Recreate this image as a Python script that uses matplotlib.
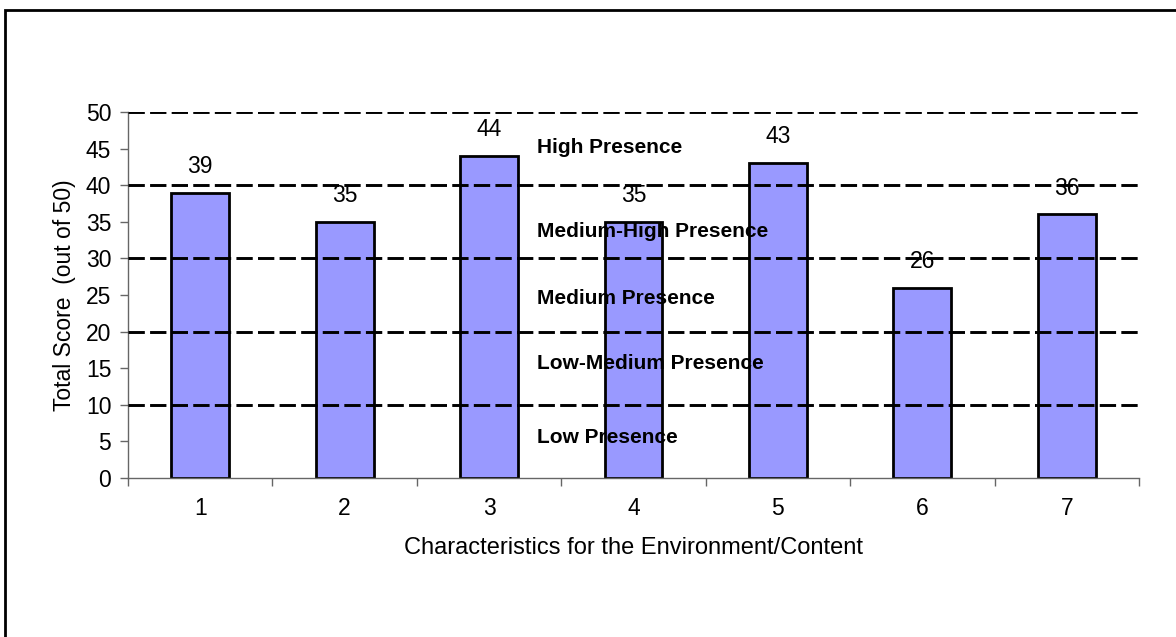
import matplotlib
matplotlib.use("Agg")
import matplotlib.pyplot as plt
from matplotlib.patches import Rectangle

plt.rcParams['font.family'] = ['Liberation Sans', 'DejaVu Sans']

categories = ["1", "2", "3", "4", "5", "6", "7"]
scores = [39, 35, 44, 35, 43, 26, 36]
band_edges = [10, 20, 30, 40, 50]
band_labels = ["Low Presence", "Low-Medium Presence", "Medium Presence",
               "Medium-High Presence", "High Presence"]
band_label_y = [5.5, 15.7, 24.5, 33.7, 45.1]

fig = plt.figure(figsize=(11.76, 6.37), dpi=100)
ax = fig.add_axes([128 / 1176, 1 - 478 / 637, 1011 / 1176, 366 / 637])

x = list(range(1, len(categories) + 1))
ax.bar(x, scores, width=0.4, color='#9999FF', edgecolor='black',
       linewidth=2, zorder=2)

for xi, v in zip(x, scores):
    ax.annotate(str(v), (xi, v), xytext=(0, 19), textcoords='offset points',
                ha='center', va='center', fontsize=16.5, zorder=4)

for e in band_edges:
    ax.axhline(e, color='black', linewidth=2.1, linestyle=(0, (5.6, 1.8)),
               zorder=3)

for lbl, yy in zip(band_labels, band_label_y):
    ax.text(3.33, yy, lbl, fontsize=15, fontweight='bold', va='center',
            ha='left', zorder=5)

ax.set_xlim(0.5, len(categories) + 0.5)
ax.set_ylim(0, 50)
ax.set_yticks(range(0, 51, 5))
ax.set_xticks(x)
ax.set_xticklabels(categories)
ax.set_xticks([i + 0.5 for i in range(0, len(categories) + 1)], minor=True)

ax.tick_params(axis='x', which='major', length=0, pad=14, labelsize=16.5)
ax.tick_params(axis='x', which='minor', length=6, width=1, color='#666666',
               direction='out')
ax.tick_params(axis='y', length=6, width=1, color='#666666', labelsize=16.5,
               pad=6)

for s in ['top', 'right']:
    ax.spines[s].set_visible(False)
for s in ['left', 'bottom']:
    ax.spines[s].set_color('#666666')
    ax.spines[s].set_linewidth(1)

ax.set_xlabel("Characteristics for the Environment/Content", fontsize=17,
              labelpad=12)
ax.set_ylabel("Total Score  (out of 50)", fontsize=16.5, labelpad=7)

fig.patches.append(Rectangle((5 / 1176, -0.1), 1.2, (1 - 10 / 637) + 0.1,
                             transform=fig.transFigure, fill=False,
                             edgecolor='black', linewidth=2))

fig.savefig("out.png", dpi=100, facecolor='white')
